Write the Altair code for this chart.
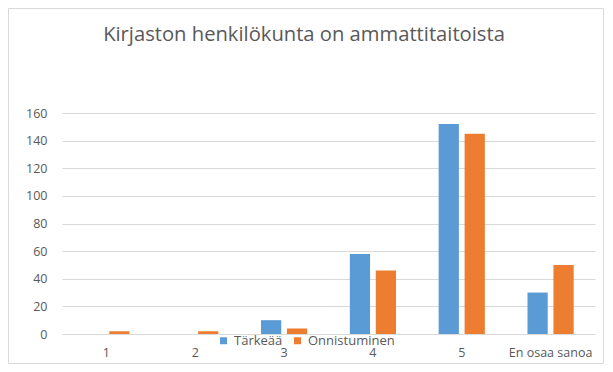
import altair as alt
import pandas as pd

categories = ["1", "2", "3", "4", "5", "En osaa sanoa"]
series = ["Tärkeää", "Onnistuminen"]
tarkeaa = [0, 0, 10, 58, 152, 30]
onnistuminen = [2, 2, 4, 46, 145, 50]
colors = ["#5B9BD5", "#ED7D31"]
title_text = "Kirjaston henkilökunta on ammattitaitoista"

rows = []
for c, a, b in zip(categories, tarkeaa, onnistuminen):
    rows.append({"cat": c, "series": series[0], "value": a})
    rows.append({"cat": c, "series": series[1], "value": b})
df = pd.DataFrame(rows)

FONT = "Open Sans"
TXT = "#595959"

bars = alt.Chart(df).mark_bar().encode(
    x=alt.X("cat:N", sort=categories,
            scale=alt.Scale(paddingInner=0.48, paddingOuter=0.24),
            axis=alt.Axis(title=None, labelAngle=0, domain=False, ticks=False,
                          labelPadding=12, labelFontSize=12.5, labelColor=TXT,
                          labelFont=FONT, grid=False)),
    xOffset=alt.XOffset("series:N", sort=series,
                        scale=alt.Scale(paddingInner=0.22, paddingOuter=0)),
    y=alt.Y("value:Q", scale=alt.Scale(domain=[0, 160]),
            axis=alt.Axis(title=None, values=list(range(0, 161, 20)), domain=False,
                          ticks=False, labelPadding=15, labelFontSize=12.5,
                          labelColor=TXT, labelFont=FONT, gridColor="#D9D9D9",
                          gridWidth=1)),
    color=alt.Color("series:N", sort=series,
                    scale=alt.Scale(domain=series, range=colors),
                    legend=alt.Legend(title=None, orient="none", direction="horizontal",
                                      legendX=155, legendY=221, symbolType="square",
                                      symbolSize=49, symbolStrokeWidth=0,
                                      labelFontSize=13, labelColor=TXT, labelFont=FONT,
                                      labelOffset=4, columnPadding=8, padding=0)),
)

border = alt.Chart(pd.DataFrame({"a": [0]})).mark_rect(
    fill="transparent", stroke="#D9D9D9", strokeWidth=1
).encode(
    x=alt.value(-53.5), x2=alt.value(541.5),
    y=alt.value(-104.5), y2=alt.value(250.5),
)

title = alt.Chart(pd.DataFrame({"t": [title_text]})).mark_text(
    font=FONT, fontSize=20.2, color=TXT, align="center", baseline="alphabetic"
).encode(
    text="t:N", x=alt.value(242), y=alt.value(-72),
)

chart = alt.layer(border, bars, title).properties(
    width=533, height=221,
    padding={"left": 54, "top": 105, "right": 10, "bottom": 30},
    autosize=alt.AutoSizeParams(type="none"),
).configure_view(stroke=None)

chart.save("out.html", embed_options={"renderer": "svg", "actions": False})
